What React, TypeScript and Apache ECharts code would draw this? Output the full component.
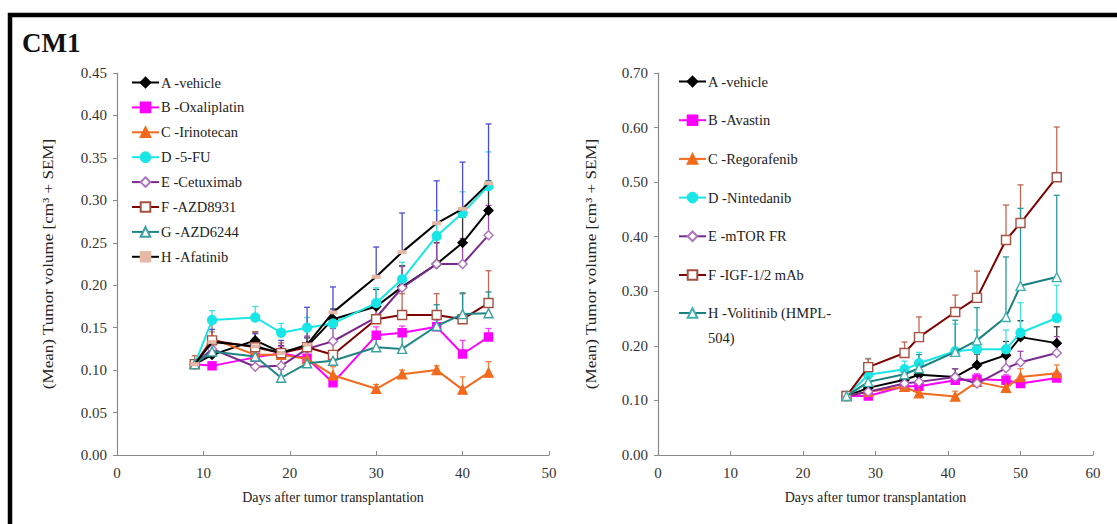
import React, { useEffect, useRef } from 'react';
import * as echarts from 'echarts';

// ---------- Left panel ----------
const daysL = [9, 11, 16, 19, 22, 25, 30, 33, 37, 40, 43];
const vehicleL = [0.107, 0.118, 0.135, 0.121, 0.128, 0.160, 0.175, 0.198, 0.225, 0.250, 0.288];
const oxaliplatin = [0.107, 0.105, 0.115, 0.120, 0.114, 0.085, 0.141, 0.144, 0.151, 0.119, 0.139];
const irinotecan = [0.107, 0.137, 0.118, 0.118, 0.113, 0.094, 0.078, 0.095, 0.100, 0.077, 0.097];
const fu5 = [0.107, 0.159, 0.162, 0.144, 0.150, 0.155, 0.179, 0.207, 0.258, 0.285, 0.317];
const cetuximab = [0.107, 0.125, 0.104, 0.105, 0.125, 0.134, 0.162, 0.197, 0.225, 0.225, 0.259];
const azd8931 = [0.107, 0.135, 0.127, 0.120, 0.127, 0.118, 0.160, 0.165, 0.165, 0.160, 0.179];
const azd6244 = [0.107, 0.122, 0.116, 0.091, 0.108, 0.111, 0.127, 0.125, 0.152, 0.166, 0.167];
const afatinib = [0.107, 0.133, 0.128, 0.120, 0.130, 0.168, 0.210, 0.239, 0.273, 0.290, 0.320];

const vehicleLErr = [0.004, 0.010, 0.010, 0.008, 0.010, 0.012, 0.020, 0.025, 0.025, 0.030, 0.035];
const oxaliplatinErr = [0.004, 0.005, 0.008, 0.008, 0.008, 0.008, 0.010, 0.008, 0.008, 0.016, 0.010];
const irinotecanErr = [0.004, 0.008, 0.010, 0.008, 0.010, 0.010, 0.005, 0.005, 0.005, 0.015, 0.013];
const fu5Err = [0.004, 0.011, 0.013, 0.011, 0.012, 0.012, 0.018, 0.020, 0.030, 0.025, 0.040];
const cetuximabErr = [0.004, 0.010, 0.010, 0.010, 0.015, 0.015, 0.020, 0.025, 0.030, 0.030, 0.035];
const azd8931Err = [0.010, 0.020, 0.018, 0.012, 0.020, 0.015, 0.020, 0.025, 0.025, 0.030, 0.038];
const azd6244Err = [0.004, 0.010, 0.010, 0.010, 0.010, 0.010, 0.015, 0.020, 0.025, 0.025, 0.025];
const afatinibErr = [0.004, 0.015, 0.015, 0.015, 0.044, 0.030, 0.035, 0.046, 0.050, 0.055, 0.070];

// ---------- Right panel ----------
const daysR = [26, 29, 34, 36, 41, 44, 48, 50, 55];
const vehicleR = [0.108, 0.123, 0.138, 0.147, 0.143, 0.165, 0.183, 0.216, 0.205];
const avastin = [0.108, 0.108, 0.126, 0.126, 0.137, 0.139, 0.137, 0.131, 0.141];
const regorafenib = [0.108, 0.116, 0.125, 0.113, 0.107, 0.134, 0.123, 0.143, 0.150];
const nintedanib = [0.108, 0.147, 0.157, 0.168, 0.190, 0.194, 0.194, 0.224, 0.251];
const mtor = [0.108, 0.116, 0.131, 0.134, 0.143, 0.131, 0.159, 0.170, 0.187];
const igf = [0.108, 0.161, 0.187, 0.216, 0.262, 0.288, 0.394, 0.425, 0.509];
const volitinib = [0.108, 0.134, 0.148, 0.159, 0.189, 0.210, 0.253, 0.310, 0.326];

const vehicleRErr = [0.004, 0.010, 0.010, 0.012, 0.015, 0.020, 0.025, 0.030, 0.030];
const avastinErr = [0.004, 0.005, 0.008, 0.008, 0.010, 0.010, 0.010, 0.010, 0.010];
const regorafenibErr = [0.004, 0.008, 0.008, 0.010, 0.010, 0.010, 0.015, 0.015, 0.015];
const nintedanibErr = [0.004, 0.030, 0.015, 0.020, 0.050, 0.035, 0.035, 0.055, 0.060];
const mtorErr = [0.004, 0.008, 0.010, 0.010, 0.015, 0.015, 0.020, 0.020, 0.030];
const igfErr = [0.008, 0.015, 0.020, 0.037, 0.031, 0.049, 0.064, 0.070, 0.092];
const volitinibErr = [0.004, 0.010, 0.015, 0.025, 0.058, 0.060, 0.110, 0.142, 0.150];

const xTicksL = [0, 50, 10];
const xTicksR = [0, 60, 10];
const yTicksL = [0, 0.45, 0.05];
const yTicksR = [0, 0.7, 0.1];

const xTitle = 'Days after tumor transplantation';
const yTitle = '(Mean) Tumor volume [cm³ + SEM]';

const SERIF = "'Times New Roman', 'Liberation Serif', serif";

type Style = {
  color: string;
  symbol: string;
  size: number | number[];
  fill: string;
  border: string;
  errColor: string;
};

const stA: Style = { color: '#000000', symbol: 'diamond', size: 9, fill: '#000000', border: '#000000', errColor: '#333333' };
const stB: Style = { color: '#ff00ff', symbol: 'rect', size: 8, fill: '#ff00ff', border: '#ff00ff', errColor: '#ff40ff' };
const stC: Style = { color: '#f26a1b', symbol: 'triangle', size: 9, fill: '#f26a1b', border: '#f26a1b', errColor: '#f08040' };
const stD: Style = { color: '#19e6e6', symbol: 'circle', size: 9, fill: '#19e6e6', border: '#19e6e6', errColor: '#40e0e0' };
const stE: Style = { color: '#7a2a8e', symbol: 'diamond', size: 9, fill: '#ffffff', border: '#b070c0', errColor: '#9a4aa8' };
const stF: Style = { color: '#7f0000', symbol: 'rect', size: 9, fill: '#ffffff', border: '#a8503f', errColor: '#c06850' };
const stG: Style = { color: '#1f8585', symbol: 'triangle', size: 9, fill: '#ffffff', border: '#3a9f9f', errColor: '#2c9090' };
const stH: Style = { color: '#000000', symbol: 'rect', size: [7, 3], fill: '#e6b8a6', border: '#e6b8a6', errColor: '#4b4bd8' };
const stHV: Style = { color: '#1a7f7f', symbol: 'triangle', size: 9, fill: '#ffffff', border: '#40b0b0', errColor: '#2a9a9a' };

type Def = { name: string; data: number[]; err: number[]; st: Style };

const leftDefs: Def[] = [
  { name: 'A -vehicle', data: vehicleL, err: vehicleLErr, st: stA },
  { name: 'B -Oxaliplatin', data: oxaliplatin, err: oxaliplatinErr, st: stB },
  { name: 'C -Irinotecan', data: irinotecan, err: irinotecanErr, st: stC },
  { name: 'D -5-FU', data: fu5, err: fu5Err, st: stD },
  { name: 'E -Cetuximab', data: cetuximab, err: cetuximabErr, st: stE },
  { name: 'F -AZD8931', data: azd8931, err: azd8931Err, st: stF },
  { name: 'G -AZD6244', data: azd6244, err: azd6244Err, st: stG },
  { name: 'H -Afatinib', data: afatinib, err: afatinibErr, st: stH },
];

const VOLI = 'H -Volitinib (HMPL-504)';

const rightDefs: Def[] = [
  { name: 'A -vehicle ', data: vehicleR, err: vehicleRErr, st: stA },
  { name: 'B -Avastin', data: avastin, err: avastinErr, st: stB },
  { name: 'C -Regorafenib', data: regorafenib, err: regorafenibErr, st: stC },
  { name: 'D -Nintedanib', data: nintedanib, err: nintedanibErr, st: stD },
  { name: 'E -mTOR FR', data: mtor, err: mtorErr, st: stE },
  { name: 'F -IGF-1/2 mAb', data: igf, err: igfErr, st: stF },
  { name: VOLI, data: volitinib, err: volitinibErr, st: stHV },
];

function buildSeries(defs: Def[], days: number[], idx: number) {
  const out: any[] = [];
  defs.forEach((d, i) => {
    out.push({
      type: 'custom',
      name: `err-${idx}-${i}`,
      xAxisIndex: idx,
      yAxisIndex: idx,
      silent: true,
      z: 1,
      encode: { x: 0, y: [1, 2] },
      data: days.map((x, j) => [x, d.data[j], d.data[j] + d.err[j]]),
      renderItem: (_p: any, api: any) => {
        const base = api.coord([api.value(0), api.value(1)]);
        const top = api.coord([api.value(0), api.value(2)]);
        const style = { stroke: d.st.errColor, lineWidth: 1.3 };
        return {
          type: 'group',
          children: [
            { type: 'line', shape: { x1: base[0], y1: base[1], x2: top[0], y2: top[1] }, style },
            { type: 'line', shape: { x1: top[0] - 3, y1: top[1], x2: top[0] + 3, y2: top[1] }, style },
          ],
        };
      },
    });
  });
  defs.forEach((d, i) => {
    out.push({
      type: 'line',
      name: d.name,
      xAxisIndex: idx,
      yAxisIndex: idx,
      z: 3 + i,
      data: days.map((x, j) => [x, d.data[j]]),
      symbol: d.st.symbol,
      symbolSize: d.st.size,
      showAllSymbol: true,
      lineStyle: { color: d.st.color, width: 2 },
      itemStyle: { color: d.st.fill, borderColor: d.st.border, borderWidth: 1.4 },
    });
  });
  return out;
}

function xAxis(idx: number, t: number[]) {
  return {
    type: 'value',
    gridIndex: idx,
    min: t[0],
    max: t[1],
    interval: t[2],
    name: xTitle,
    nameLocation: 'middle',
    nameGap: 35,
    nameTextStyle: { fontFamily: SERIF, fontSize: 14, color: '#222' },
    axisLine: { lineStyle: { color: '#8a8a8a', width: 1.2 } },
    axisTick: { inside: true, length: 4, lineStyle: { color: '#8a8a8a' } },
    axisLabel: { fontFamily: SERIF, fontSize: 15, color: '#333', margin: 10 },
    splitLine: { show: false },
  };
}

function yAxis(idx: number, t: number[]) {
  return {
    type: 'value',
    gridIndex: idx,
    min: t[0],
    max: t[1],
    interval: t[2],
    axisLine: { show: true, lineStyle: { color: '#8a8a8a', width: 1.2 } },
    axisTick: { show: true, length: 4, lineStyle: { color: '#8a8a8a' } },
    axisLabel: {
      fontFamily: SERIF,
      fontSize: 15,
      color: '#333',
      margin: 10,
      formatter: (v: number) => v.toFixed(2),
    },
    splitLine: { show: false },
  };
}

const legendText = { fontFamily: SERIF, fontSize: 14.5, color: '#222', padding: [0, 0, 0, -3] };

function legend(names: any[], left: number, top: number, gap: number, extra: any = {}) {
  return {
    orient: 'vertical',
    left,
    top,
    itemWidth: 27,
    itemHeight: 12,
    itemGap: gap,
    selectedMode: false,
    textStyle: legendText,
    data: names,
    ...extra,
  };
}

export default function App() {
  const ref = useRef<HTMLDivElement>(null);
  useEffect(() => {
    if (!ref.current) return;
    const chart = echarts.init(ref.current, undefined, { renderer: 'svg' });
    const rightMain = rightDefs.filter((d) => d.name !== VOLI).map((d) => d.name);
    const richFont = { fontFamily: SERIF, fontSize: 14.5, color: '#222' };
    const option: any = {
      animation: false,
      backgroundColor: '#ffffff',
      textStyle: { fontFamily: SERIF },
      grid: [
        { left: 117, top: 73, width: 432, height: 382 },
        { left: 658, top: 73, width: 435, height: 382 },
      ],
      xAxis: [xAxis(0, xTicksL), xAxis(1, xTicksR)],
      yAxis: [yAxis(0, yTicksL), yAxis(1, yTicksR)],
      legend: [
        legend(leftDefs.map((d) => d.name), 126, 70, 9.9),
        legend(rightMain, 673, 69, 23.7),
        legend([VOLI], 673, 300, 0, {
          formatter: (n: string) => {
            const cut = n.indexOf('-504');
            return `{a|${n.slice(0, cut + 1)}}\n{b|${n.slice(cut + 1)}}`;
          },
          textStyle: {
            ...legendText,
            rich: {
              a: { ...richFont, lineHeight: 50 },
              b: { ...richFont, lineHeight: 1 },
            },
          },
        }),
      ],
      graphic: [
        {
          type: 'rect',
          shape: { x: 10, y: 15, width: 1200, height: 600 },
          style: { fill: 'none', stroke: '#000', lineWidth: 4.5 },
          silent: true,
        },
        {
          type: 'text',
          x: 22,
          y: 29,
          style: { text: 'CM1', fontFamily: SERIF, fontSize: 27, fontWeight: 'bold', fill: '#111', verticalAlign: 'top' },
        },
        {
          type: 'text',
          x: 48,
          y: 264,
          rotation: Math.PI / 2,
          scaleX: 1.22,
          style: { text: yTitle, fontFamily: SERIF, fontSize: 14, fill: '#222', align: 'center', verticalAlign: 'middle' },
        },
        {
          type: 'text',
          x: 591,
          y: 264,
          rotation: Math.PI / 2,
          scaleX: 1.22,
          style: { text: yTitle, fontFamily: SERIF, fontSize: 14, fill: '#222', align: 'center', verticalAlign: 'middle' },
        },
      ],
      series: [...buildSeries(leftDefs, daysL, 0), ...buildSeries(rightDefs, daysR, 1)],
    };
    chart.setOption(option);
    return () => chart.dispose();
  }, []);
  return (
    <div
      ref={ref}
      style={{ position: 'fixed', left: 0, top: 0, width: 1117, height: 524, background: '#fff' }}
    />
  );
}
